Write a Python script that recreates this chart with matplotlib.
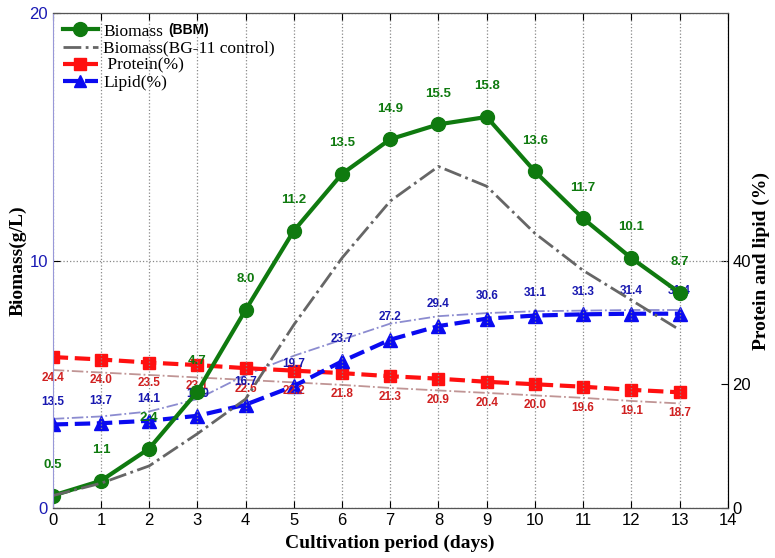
import numpy as np
import matplotlib.pyplot as plt

# Data
days = np.arange(0, 14)
biomass_bbm = [0.5, 1.1, 2.4, 4.7, 8.0, 11.2, 13.5, 14.9, 15.5, 15.8, 13.6, 11.7, 10.1, 8.7]
biomass_bg11 = [0.5, 1.0, 1.7, 3.0, 4.4, 7.4, 10.1, 12.4, 13.8, 13.0, 11.1, 9.6, 8.4, 7.2]
protein = [24.4, 24.0, 23.5, 23.1, 22.6, 22.2, 21.8, 21.3, 20.9, 20.4, 20.0, 19.6, 19.1, 18.7]
lipid = [13.5, 13.7, 14.1, 14.9, 16.7, 19.7, 23.7, 27.2, 29.4, 30.6, 31.1, 31.3, 31.4, 31.4]
protein_ctrl = [22.3, 21.9, 21.5, 21.1, 20.7, 20.3, 19.9, 19.4, 19.0, 18.6, 18.2, 17.8, 17.3, 16.9]
lipid_ctrl = [14.4, 14.8, 15.6, 17.6, 21.5, 24.6, 27.2, 29.8, 31.0, 31.5, 31.8, 31.9, 32.0, 32.0]

green = '#0f7a0f'
red = '#ff1010'
blue = '#0a0af0'

plt.rcParams['font.family'] = ['Liberation Sans', 'DejaVu Sans']

fig = plt.figure(figsize=(7.75, 5.58), dpi=100)
ax = fig.add_axes([0.068, 0.0896, 0.871, 0.8871])
ax2 = ax.twinx()

# right axis (percent) lines first so biomass stays on top
ax2.plot(days, protein_ctrl, color='#c09595', lw=1.3, ls='-.')
ax2.plot(days, lipid_ctrl, color='#8c8cd0', lw=1.3, ls='-.')
ax2.plot(days, protein, color=red, lw=3, ls='--', marker='s', ms=9)
ax2.plot(days, lipid, color=blue, lw=3, ls='--', marker='^', ms=10)

l1, = ax.plot(days, biomass_bbm, color=green, lw=3, marker='o', ms=10)
l2, = ax.plot(days, biomass_bg11, color='#666666', lw=2, ls='-.')
ax.set_zorder(ax2.get_zorder() + 1)
ax.patch.set_visible(False)

# value labels
for d, v in zip(days, biomass_bbm):
    ax.annotate(f'{v:.1f}', (d, v), xytext=(0, 22), textcoords='offset points',
                ha='center', va='center', fontsize=9.5, fontweight='bold', color=green)
for d, v in zip(days, protein):
    ax2.annotate(f'{v:.1f}', (d, v), xytext=(0, -15), textcoords='offset points',
                 ha='center', va='center', fontsize=8.5, fontweight='bold', color='#d02020')
for d, v in zip(days, lipid):
    ax2.annotate(f'{v:.1f}', (d, v), xytext=(0, 16), textcoords='offset points',
                 ha='center', va='center', fontsize=8.5, fontweight='bold', color='#1818b0')

ax.set_xlim(0, 14)
ax.set_ylim(0, 20)
ax2.set_ylim(0, 80)
ax.set_xticks(range(0, 15))
ax.set_yticks([0, 10, 20])
ax2.set_yticks([0, 20, 40])

ax.grid(True, ls=':', color='#888888', lw=0.9)
ax.tick_params(direction='in', labelsize=12, top=True, length=5)
ax.tick_params(axis='y', labelcolor='#1a1ab4')
ax2.tick_params(direction='in', labelsize=12, length=5)
for s in ['top', 'bottom']:
    ax.spines[s].set_color('#555555')
ax.spines['left'].set_color('#9898d8')
ax2.spines['left'].set_visible(False)
ax2.spines['right'].set_color('#555555')

serif = ['Liberation Serif', 'DejaVu Serif']
ax.set_xlabel('Cultivation period (days)', fontsize=14, fontweight='bold', family=serif, labelpad=5)
ax.set_ylabel('Biomass(g/L)', fontsize=14, fontweight='bold', family=serif, labelpad=2)
ax2.set_ylabel('Protein and lipid (%)', fontsize=14, fontweight='bold', family=serif, labelpad=1)

# legend
p_handle = plt.Line2D([], [], color=red, lw=3, ls='--', marker='s', ms=8)
b_handle = plt.Line2D([], [], color=blue, lw=3, ls='--', marker='^', ms=9)
ax.legend([l1, l2, p_handle, b_handle],
          ['Biomass', 'Biomass(BG-11 control)', ' Protein(%)', 'Lipid(%)'],
          loc='upper left', bbox_to_anchor=(0.0, 1.0), frameon=False,
          prop={'family': serif, 'size': 12.5}, handlelength=2.0,
          handletextpad=0.3, labelspacing=0.05, borderaxespad=0.2)
fig.text(168 / 775, 1 - 30 / 558, '(BBM)', fontsize=10, fontweight='bold', va='center')

fig.savefig('out.png', dpi=100)
